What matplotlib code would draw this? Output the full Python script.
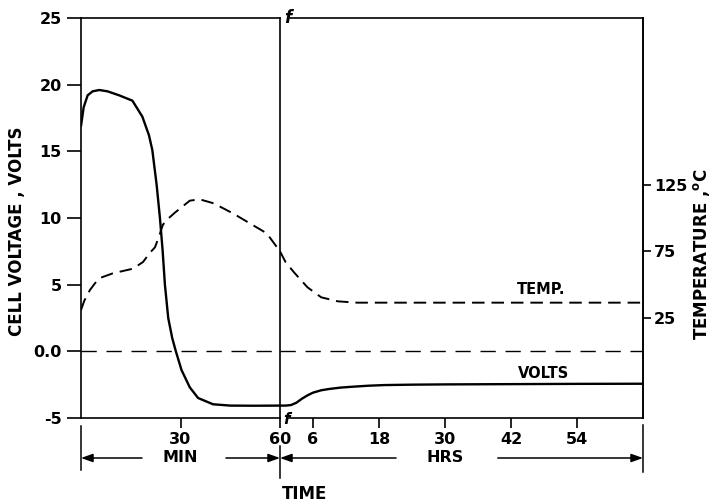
import numpy as np
import matplotlib
matplotlib.use('Agg')
import matplotlib.pyplot as plt

plt.rcParams['font.family'] = ['DejaVu Sans']
plt.rcParams['font.weight'] = 'bold'
plt.rcParams['mathtext.default'] = 'bf'
plt.rcParams['lines.scale_dashes'] = False

# cell voltage during the first hour (minutes)
min_t = [0, 0.8, 2, 3.5, 5.5, 8, 11.5, 15.5, 18.5, 20.5, 21.5, 22.8, 23.8, 24.6,
         25.3, 26.3, 27.5, 28.6, 30.3, 32.8, 35.3, 39.8, 45, 52, 60]
min_volts = [16.9, 18.3, 19.2, 19.5, 19.6, 19.5, 19.2, 18.8, 17.6, 16.2, 15.1, 12.5,
             10.0, 7.6, 5.0, 2.5, 1.0, 0.0, -1.4, -2.7, -3.5, -3.97, -4.07, -4.08, -4.07]

# cell temperature during the first hour (deg C)
min_tt = [0, 1, 2.7, 4.2, 5.7, 9.6, 15.7, 18.7, 20.8, 22.3, 23.5, 24.7, 26.5, 28.3,
          32.8, 35.8, 40, 45.8, 56, 60]
min_temp = [31, 38, 46, 51, 55, 58.5, 62, 67, 74, 78, 86, 95, 100, 104,
            113, 114, 111, 103.5, 88.5, 75]

# after the first hour (hours)
hr_t = [0, 1, 2, 3, 4, 5, 6, 7.5, 9, 11, 13, 16, 19, 24, 30, 42, 54, 66]
hr_volts = [-4.07, -4.07, -4.03, -3.85, -3.55, -3.3, -3.1, -2.92, -2.82, -2.72,
            -2.66, -2.58, -2.53, -2.5, -2.48, -2.46, -2.44, -2.43]
hr_tt = [0, 1, 2.6, 5, 7.5, 10.5, 14, 20, 66]
hr_temp = [75, 67, 59, 48, 40.5, 37.5, 36.5, 36.5, 36.5]

volt_ticks = [-5, 0, 5, 10, 15, 20, 25]
volt_labels = ['-5', '0.0', '5', '10', '15', '20', '25']
temp_ticks = [25, 75, 125]
min_ticks = [30, 60]
hr_ticks = [6, 18, 30, 42, 54]

W, H = 713, 503
fig = plt.figure(figsize=(W / 100, H / 100), dpi=100)
ax1 = fig.add_axes([81 / W, 1 - 418 / H, 199 / W, 400 / H])
ax2 = fig.add_axes([280 / W, 1 - 418 / H, 363 / W, 400 / H], sharey=ax1)
ax3 = ax2.twinx()
ax2.patch.set_visible(False)
ax3.patch.set_visible(False)

lw_sp = 1.2
fs = 11.5
for ax in (ax1, ax2, ax3):
    for s in ax.spines.values():
        s.set_linewidth(lw_sp)

ax1.plot(min_t, min_volts, color='black', lw=1.7, solid_capstyle='round')
ax1.plot(min_tt, np.array(min_temp) / 10.0, color='black', lw=1.4, dashes=(9, 5))
ax1.axhline(0, color='black', lw=1.0, dashes=(11, 7))
ax1.set_xlim(0, 60)
ax1.set_ylim(-5, 25)
ax1.set_yticks(volt_ticks)
ax1.set_yticklabels(volt_labels)
ax1.set_xticks(min_ticks)
ax1.tick_params(axis='y', direction='out', length=10, width=lw_sp, labelsize=fs, pad=4)
ax1.tick_params(axis='x', direction='out', length=7, width=lw_sp, labelsize=fs, pad=3)

ax2.plot(hr_t, hr_volts, color='black', lw=1.7)
ax2.plot(hr_tt, np.array(hr_temp) / 10.0, color='black', lw=1.4, dashes=(9, 5))
ax2.axhline(0, color='black', lw=1.0, dashes=(11, 7))
ax2.set_xlim(0, 66)
ax2.set_xticks(hr_ticks)
ax2.tick_params(axis='y', left=False, labelleft=False)
ax2.tick_params(axis='x', direction='out', length=7, width=lw_sp, labelsize=fs, pad=3)
ax2.spines['left'].set_visible(False)
ax2.spines['top'].set_bounds(1.9, 66)
ax2.spines['bottom'].set_bounds(1.6, 66)

ax3.set_ylim(-50, 250)
ax3.set_yticks(temp_ticks)
ax3.tick_params(axis='y', direction='out', length=6, width=lw_sp, labelsize=fs, pad=2)
for s in ('left', 'top', 'bottom'):
    ax3.spines[s].set_visible(False)

# break marks
ax2.text(1.4, 1.0, 'f', transform=ax2.get_xaxis_transform(), fontsize=12,
         style='italic', ha='center', va='center')
ax2.text(1.1, -0.005, 'f', transform=ax2.get_xaxis_transform(), fontsize=11,
         style='italic', ha='center', va='center')

# curve labels
ax2.text(47.5, 4.6, 'TEMP.', fontsize=10.5, ha='center', va='center')
ax2.text(48, -1.65, 'VOLTS', fontsize=10.5, ha='center', va='center')

# time spans below the axis
ya = -0.1
tr1 = ax1.get_xaxis_transform()
tr2 = ax2.get_xaxis_transform()
ap = dict(arrowstyle='-|>,head_length=0.7,head_width=0.25', color='black', lw=1.1,
          shrinkA=0, shrinkB=0)
ax1.plot([0, 0], [-0.02, -0.13], transform=tr1, color='black', lw=1.1, clip_on=False)
ax1.plot([60, 60], [-0.07, -0.15], transform=tr1, color='black', lw=1.1, clip_on=False)
ax2.plot([66, 66], [-0.018, -0.135], transform=tr2, color='black', lw=1.1, clip_on=False)
ax1.annotate('', xy=(0, ya), xycoords=tr1, xytext=(18.4, ya), textcoords=tr1, arrowprops=ap)
ax1.annotate('', xy=(60, ya), xycoords=tr1, xytext=(43.7, ya), textcoords=tr1, arrowprops=ap)
ax1.text(30, ya, 'MIN', transform=tr1, fontsize=fs, ha='center', va='center')
ax2.annotate('', xy=(0, ya), xycoords=tr2, xytext=(21.1, ya), textcoords=tr2, arrowprops=ap)
ax2.annotate('', xy=(66, ya), xycoords=tr2, xytext=(39.6, ya), textcoords=tr2, arrowprops=ap)
ax2.text(30, ya, 'HRS', transform=tr2, fontsize=fs, ha='center', va='center')

fig.text(305 / W, 1 - 494 / H, 'TIME', fontsize=12, ha='center', va='center')
fig.text(17 / W, 1 - 231 / H, 'CELL VOLTAGE , VOLTS', fontsize=12, rotation=90,
         ha='center', va='center')
fig.text(701 / W, 1 - 254 / H, 'TEMPERATURE ,$^{o}$C', fontsize=12, rotation=90,
         ha='center', va='center')

fig.savefig('out.png', dpi=100)
